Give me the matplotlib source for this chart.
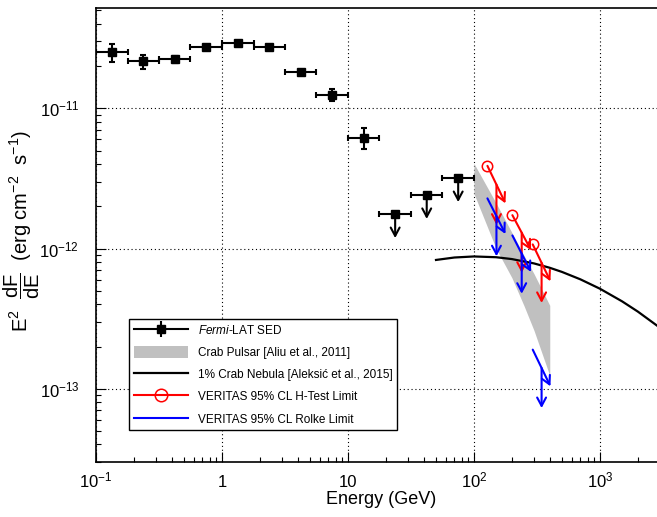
import numpy as np
import matplotlib
matplotlib.use('Agg')
import matplotlib.pyplot as plt
from matplotlib.lines import Line2D
from matplotlib.patches import Patch
import matplotlib.ticker as mticker

plt.rcParams['font.family'] = ['Liberation Sans', 'DejaVu Sans']
plt.rcParams['mathtext.fontset'] = 'custom'
plt.rcParams['mathtext.rm'] = 'Liberation Sans'
plt.rcParams['mathtext.it'] = 'Liberation Sans:italic'
plt.rcParams['mathtext.bf'] = 'Liberation Sans:bold'

# ---------------- data ----------------
# Fermi-LAT SED (points with errors)
fermi_e   = [0.133, 0.237, 0.422, 0.750, 1.33, 2.37, 4.22, 7.50, 13.3]
fermi_elo = [0.100, 0.178, 0.316, 0.562, 1.00, 1.78, 3.16, 5.62, 10.0]
fermi_ehi = [0.178, 0.316, 0.562, 1.000, 1.78, 3.16, 5.62, 10.0, 17.8]
fermi_f   = [2.51e-11, 2.17e-11, 2.25e-11, 2.73e-11, 2.92e-11, 2.75e-11, 1.82e-11, 1.25e-11, 6.16e-12]
fermi_flo = [2.15e-11, 1.90e-11, 2.10e-11, 2.66e-11, 2.85e-11, 2.68e-11, 1.76e-11, 1.13e-11, 5.09e-12]
fermi_fhi = [2.88e-11, 2.42e-11, 2.38e-11, 2.80e-11, 2.99e-11, 2.82e-11, 1.88e-11, 1.38e-11, 7.26e-12]

# Fermi-LAT upper limits
ful_e   = [23.7, 42.2, 75.0]
ful_elo = [17.8, 31.6, 56.2]
ful_ehi = [31.6, 56.2, 100.0]
ful_f   = [1.76e-12, 2.41e-12, 3.18e-12]

# Crab pulsar band [Aliu et al., 2011]
band_e  = [100, 150, 200, 250, 300, 400]
band_hi = [4.05e-12, 2.11e-12, 1.30e-12, 8.9e-13, 6.6e-13, 3.93e-13]
band_lo = [2.47e-12, 1.00e-12, 6.2e-13, 3.9e-13, 2.6e-13, 1.24e-13]

# 1% Crab Nebula [Aleksic et al., 2015]
neb_e = [50, 70, 100, 150, 200, 300, 400, 500, 700, 1000, 1500, 2000, 3000]
neb_f = [8.29e-13, 8.63e-13, 8.78e-13, 8.67e-13, 8.41e-13, 7.83e-13, 7.29e-13,
         6.81e-13, 6.03e-13, 5.17e-13, 4.20e-13, 3.55e-13, 2.72e-13]

# VERITAS limits: energy bins and flux at bin low / high edge
ver_elo = [128, 202, 293]
ver_ehi = [178, 284, 405]
htest_f_lo = [3.89e-12, 1.73e-12, 1.07e-12]
htest_f_hi = [2.10e-12, 9.73e-13, 5.84e-13]
rolke_f_lo = [2.28e-12, 1.24e-12, 1.90e-13]
rolke_f_hi = [1.27e-12, 6.81e-13, 1.04e-13]

legend_labels = [r'$\mathit{Fermi}$-LAT SED', 'Crab Pulsar [Aliu et al., 2011]',
                 '1% Crab Nebula [Aleksić et al., 2015]', 'VERITAS 95% CL H-Test Limit',
                 'VERITAS 95% CL Rolke Limit']

# ---------------- figure ----------------
W, H = 657, 517
fig = plt.figure(figsize=(W/100, H/100), dpi=100)
x0, x1 = 96, 660
y0, y1 = 8, 462
ax = fig.add_axes([x0/W, 1 - y1/H, (x1 - x0)/W, (y1 - y0)/H])
ax.set_xscale('log')
ax.set_yscale('log')
ax.set_xlim(0.1, 3000)
ax.set_ylim(3e-14, 5.2e-11)

ax.grid(True, which='major', color='black', linestyle=(0, (1, 2.5)), linewidth=0.8)
ax.set_axisbelow(True)

# band
ax.fill_between(band_e, band_lo, band_hi, color='#c0c0c0', linewidth=0, zorder=2)

# nebula
ax.plot(neb_e, neb_f, color='black', lw=1.6, zorder=3)

# Fermi points
fe = np.array(fermi_e)
ff = np.array(fermi_f)
xerr = [fe - np.array(fermi_elo), np.array(fermi_ehi) - fe]
yerr = [ff - np.array(fermi_flo), np.array(fermi_fhi) - ff]
ax.errorbar(fe, ff, xerr=xerr, yerr=yerr, fmt='s', color='black', ms=6,
            elinewidth=1.5, capsize=2, capthick=1.5, zorder=5)

ule = np.array(ful_e)
ulf = np.array(ful_f)
ax.errorbar(ule, ulf, xerr=[ule - np.array(ful_elo), np.array(ful_ehi) - ule],
            fmt='s', color='black', ms=6, elinewidth=1.5, capsize=2, capthick=1.5, zorder=5)

def arrow(x_a, y_a, x_b, y_b, color, hl=0.6, hw=0.32):
    ax.annotate('', xy=(x_b, y_b), xytext=(x_a, y_a),
                arrowprops=dict(arrowstyle='->,head_length=%g,head_width=%g' % (hl, hw),
                                color=color, lw=1.5, shrinkA=0, shrinkB=0,
                                mutation_scale=10), zorder=6)

UL_DROP = 10 ** -0.171
for e, f in zip(ful_e, ful_f):
    arrow(e, f, e, f * UL_DROP, 'black')

V_DROP = 10 ** -0.286
def veritas(flo, fhi, color, circle):
    for el, eh, a, b in zip(ver_elo, ver_ehi, flo, fhi):
        arrow(el, a, eh, b, color)
        ec = np.sqrt(el * eh)
        fc = np.sqrt(a * b)
        arrow(ec, fc, ec, fc * V_DROP, color)
        if circle:
            ax.plot([el], [a], 'o', mfc='none', mec=color, ms=7.5, mew=1.1, zorder=7)

veritas(htest_f_lo, htest_f_hi, 'red', True)
veritas(rolke_f_lo, rolke_f_hi, 'blue', False)

# ticks
ax.set_xticks([0.1, 1, 10, 100, 1000])
ax.set_xticklabels([r'$10^{-1}$', '1', '10', r'$10^{2}$', r'$10^{3}$'])
ax.set_yticks([1e-13, 1e-12, 1e-11])
ax.set_yticklabels([r'$10^{-13}$', r'$10^{-12}$', r'$10^{-11}$'])
ax.xaxis.set_minor_locator(mticker.LogLocator(base=10, subs=np.arange(2, 10), numticks=20))
ax.yaxis.set_minor_locator(mticker.LogLocator(base=10, subs=np.arange(2, 10), numticks=20))
ax.xaxis.set_minor_formatter(mticker.NullFormatter())
ax.yaxis.set_minor_formatter(mticker.NullFormatter())
ax.tick_params(which='both', direction='in', top=False, right=False, width=0.8, labelsize=12)
ax.tick_params(which='major', length=7.5)
ax.tick_params(which='minor', length=3.8)
ax.tick_params(axis='x', which='major', pad=18.2)
ax.tick_params(axis='y', which='major', pad=12)
for lab in ax.get_xticklabels():
    lab.set_verticalalignment('baseline')
ax.spines['right'].set_visible(False)
for s in ['left', 'bottom', 'top']:
    ax.spines[s].set_linewidth(1.2)

fig.text(381/W, 1 - 504.5/H, 'Energy (GeV)', ha='center', va='baseline', fontsize=13)
fig.text(22/W, 1 - 231/H,
         r'E$^{2}$  $\dfrac{\mathrm{dF}}{\mathrm{dE}}$  (erg cm$^{-2}$  s$^{-1}$)',
         rotation=90, ha='center', va='center', fontsize=14.5)

# legend
h_fermi = (Line2D([], [], color='black', lw=1.5),
           Line2D([], [], color='black', marker='|', ms=12, mew=1.5, ls='none'),
           Line2D([], [], color='black', marker='s', ms=6, ls='none'))
h_band = Patch(facecolor='#c0c0c0', edgecolor='none')
h_neb = Line2D([], [], color='black', lw=1.6)
h_ht = Line2D([], [], color='red', lw=1.5, marker='o', mfc='none', mec='red', ms=9, mew=1.1)
h_rk = Line2D([], [], color='blue', lw=1.5)
leg = ax.legend([h_fermi, h_band, h_neb, h_ht, h_rk], legend_labels,
                loc='upper left', bbox_to_anchor=(129/W, 1 - 319/H), bbox_transform=fig.transFigure,
                borderaxespad=0, fontsize=8.5, handlelength=4.63, handleheight=1.2,
                handletextpad=0.8, labelspacing=0.78, borderpad=0.4,
                fancybox=False, framealpha=1, edgecolor='black')
leg.get_frame().set_linewidth(1.0)
leg.set_zorder(10)

fig.savefig('out.png', dpi=100)
